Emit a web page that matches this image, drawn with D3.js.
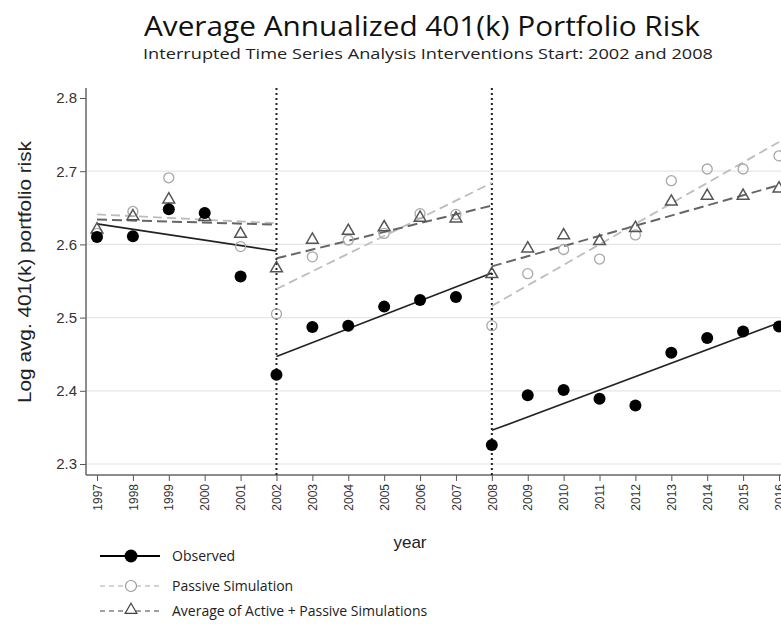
<!DOCTYPE html>
<html>
<head>
<meta charset="utf-8">
<script src="https://cdn.jsdelivr.net/npm/d3@7"></script>
<style>
  body { margin: 0; background: #fff; }
  text { font-family: "Liberation Sans", Arial, sans-serif; }
  .cal { font-family: "Open Sans", "Noto Sans", sans-serif; }
</style>
</head>
<body>
<svg class="chart"></svg>
<script>
// -------------------- Data --------------------
var years = d3.range(1997, 2017);
var yTicks = [2.3, 2.4, 2.5, 2.6, 2.7, 2.8];
var interventions = [2002, 2008];

var observed = [2.610, 2.611, 2.648, 2.643, 2.556, 2.422, 2.487, 2.489, 2.515, 2.524,
                2.528, 2.326, 2.394, 2.401, 2.389, 2.380, 2.452, 2.472, 2.481, 2.488];
var passive  = [2.615, 2.645, 2.691, 2.643, 2.597, 2.505, 2.583, 2.606, 2.615, 2.642,
                2.641, 2.489, 2.560, 2.593, 2.580, 2.613, 2.687, 2.703, 2.703, 2.721];
var average  = [2.619, 2.637, 2.660, 2.636, 2.613, 2.566, 2.605, 2.617, 2.622, 2.635,
                2.634, 2.558, 2.593, 2.611, 2.603, 2.621, 2.657, 2.665, 2.665, 2.675];

// fitted segments: [start year, end year]
var segmentYears = [[1997, 2002], [2002, 2008], [2008, 2016]];
var fitObserved = [[2.628, 2.591], [2.447, 2.561], [2.346, 2.493]];
var fitPassive  = [[2.641, 2.629], [2.539, 2.684], [2.516, 2.740]];
var fitAverage  = [[2.634, 2.627], [2.581, 2.653], [2.570, 2.681]];

// -------------------- Settings --------------------
var W = 781, H = 624;
var plotLeft = 86, plotTop = 88, plotBottom = 475;

var svg = d3.select(".chart").attr("width", W).attr("height", H);

var x = d3.scaleLinear().domain([1997, 2016]).range([97, 779]);
var y = d3.scaleLinear().domain([2.3, 2.8]).range([464, 98]);

// -------------------- Titles --------------------
svg.append("text").attr("class", "cal")
  .attr("x", 422).attr("y", 36)
  .attr("text-anchor", "middle")
  .attr("font-size", 27).attr("fill", "#111")
  .attr("textLength", 556).attr("lengthAdjust", "spacingAndGlyphs")
  .text("Average Annualized 401(k) Portfolio Risk");

svg.append("text").attr("class", "cal")
  .attr("x", 428).attr("y", 59)
  .attr("text-anchor", "middle")
  .attr("font-size", 15).attr("fill", "#222")
  .attr("textLength", 570).attr("lengthAdjust", "spacingAndGlyphs")
  .text("Interrupted Time Series Analysis Interventions Start: 2002 and 2008");

// -------------------- Grid --------------------
svg.append("g").selectAll("line")
  .data(yTicks.filter(function(d) { return d < 2.8; }))
  .enter().append("line")
    .attr("x1", plotLeft).attr("x2", W)
    .attr("y1", function(d) { return y(d); })
    .attr("y2", function(d) { return y(d); })
    .attr("stroke", "#e6e6e6").attr("stroke-width", 1.2);

// -------------------- Axes --------------------
var yAxis = d3.axisLeft(y).tickValues(yTicks).tickSize(6).tickFormat(d3.format(".1f"));
var gy = svg.append("g").attr("transform", "translate(" + plotLeft + ",0)").call(yAxis);
gy.select(".domain").remove();
gy.selectAll(".tick line").attr("stroke", "#555");
gy.selectAll(".tick text").attr("font-size", 15).attr("fill", "#333").attr("x", -9);

var xAxis = d3.axisBottom(x).tickValues(years).tickSize(6).tickFormat(d3.format("d"));
var gx = svg.append("g").attr("transform", "translate(0," + plotBottom + ")").call(xAxis);
gx.select(".domain").remove();
gx.selectAll(".tick line").attr("stroke", "#555");
gx.selectAll(".tick text")
  .attr("font-size", 12).attr("fill", "#333")
  .attr("transform", "rotate(-90)")
  .attr("text-anchor", "end")
  .attr("x", -9).attr("y", 0).attr("dy", "0.35em");

svg.append("line").attr("x1", plotLeft).attr("x2", plotLeft)
  .attr("y1", plotTop).attr("y2", plotBottom)
  .attr("stroke", "#666").attr("stroke-width", 1.5);
svg.append("line").attr("x1", plotLeft).attr("x2", W)
  .attr("y1", plotBottom).attr("y2", plotBottom)
  .attr("stroke", "#666").attr("stroke-width", 1.5);

svg.append("text")
  .attr("transform", "translate(31," + 272 + ") rotate(-90)")
  .attr("text-anchor", "middle").attr("font-size", 18).attr("fill", "#222")
  .attr("textLength", 262).attr("lengthAdjust", "spacingAndGlyphs")
  .text("Log avg. 401(k) portfolio risk");

svg.append("text")
  .attr("x", 410).attr("y", 548).attr("text-anchor", "middle")
  .attr("font-size", 17).attr("fill", "#222")
  .text("year");

// -------------------- Intervention lines --------------------
svg.append("g").selectAll("line")
  .data(interventions).enter().append("line")
    .attr("x1", function(d) { return x(d); }).attr("x2", function(d) { return x(d); })
    .attr("y1", plotTop).attr("y2", plotBottom)
    .attr("stroke", "#222").attr("stroke-width", 2)
    .attr("stroke-dasharray", "2,3");

// -------------------- Fitted lines --------------------
function drawFit(fit, color, width, dash) {
  svg.append("g").selectAll("line")
    .data(fit).enter().append("line")
      .attr("x1", function(d, i) { return x(segmentYears[i][0]); })
      .attr("x2", function(d, i) { return x(segmentYears[i][1]); })
      .attr("y1", function(d) { return y(d[0]); })
      .attr("y2", function(d) { return y(d[1]); })
      .attr("stroke", color).attr("stroke-width", width)
      .attr("stroke-dasharray", dash);
}
drawFit(fitPassive, "#bdbdbd", 1.8, "9,5");
drawFit(fitAverage, "#666", 2, "10,5");
drawFit(fitObserved, "#222", 1.6, null);

// -------------------- Points --------------------
var tri = d3.symbol().type(d3.symbolTriangle).size(60);

svg.append("g").selectAll("circle")
  .data(passive).enter().append("circle")
    .attr("cx", function(d, i) { return x(years[i]); })
    .attr("cy", function(d) { return y(d); })
    .attr("r", 5)
    .attr("fill", "none").attr("stroke", "#a8a8a8").attr("stroke-width", 1.3);

svg.append("g").selectAll("path")
  .data(average).enter().append("path")
    .attr("d", tri)
    .attr("transform", function(d, i) { return "translate(" + x(years[i]) + "," + (y(d) - 1) + ")"; })
    .attr("fill", "none").attr("stroke", "#555").attr("stroke-width", 1.5);

svg.append("g").selectAll("circle")
  .data(observed).enter().append("circle")
    .attr("cx", function(d, i) { return x(years[i]); })
    .attr("cy", function(d) { return y(d); })
    .attr("r", 6)
    .attr("fill", "#000");

// -------------------- Legend --------------------
var legend = svg.append("g");
var rows = [
  {label: "Observed", y: 556},
  {label: "Passive Simulation", y: 586},
  {label: "Average of Active + Passive Simulations", y: 611}
];

legend.append("line").attr("x1", 100).attr("x2", 160).attr("y1", rows[0].y).attr("y2", rows[0].y)
  .attr("stroke", "#000").attr("stroke-width", 1.8);
legend.append("circle").attr("cx", 131).attr("cy", rows[0].y).attr("r", 6.5).attr("fill", "#000");

legend.append("line").attr("x1", 100).attr("x2", 160).attr("y1", rows[1].y).attr("y2", rows[1].y)
  .attr("stroke", "#aaa").attr("stroke-width", 1.2).attr("stroke-dasharray", "5,4");
legend.append("circle").attr("cx", 131).attr("cy", rows[1].y).attr("r", 5.5)
  .attr("fill", "#fff").attr("stroke", "#999").attr("stroke-width", 1.2);

legend.append("line").attr("x1", 100).attr("x2", 160).attr("y1", rows[2].y).attr("y2", rows[2].y)
  .attr("stroke", "#444").attr("stroke-width", 1.2).attr("stroke-dasharray", "5,4");
legend.append("path").attr("d", tri)
  .attr("transform", "translate(131," + (rows[2].y - 1) + ")")
  .attr("fill", "#fff").attr("stroke", "#444").attr("stroke-width", 1.2);

legend.selectAll("text")
  .data(rows).enter().append("text").attr("class", "cal")
    .attr("x", 172).attr("y", function(d) { return d.y; })
    .attr("dy", "0.35em")
    .attr("font-size", 14).attr("fill", "#222")
    .text(function(d) { return d.label; });
</script>
</body>
</html>
